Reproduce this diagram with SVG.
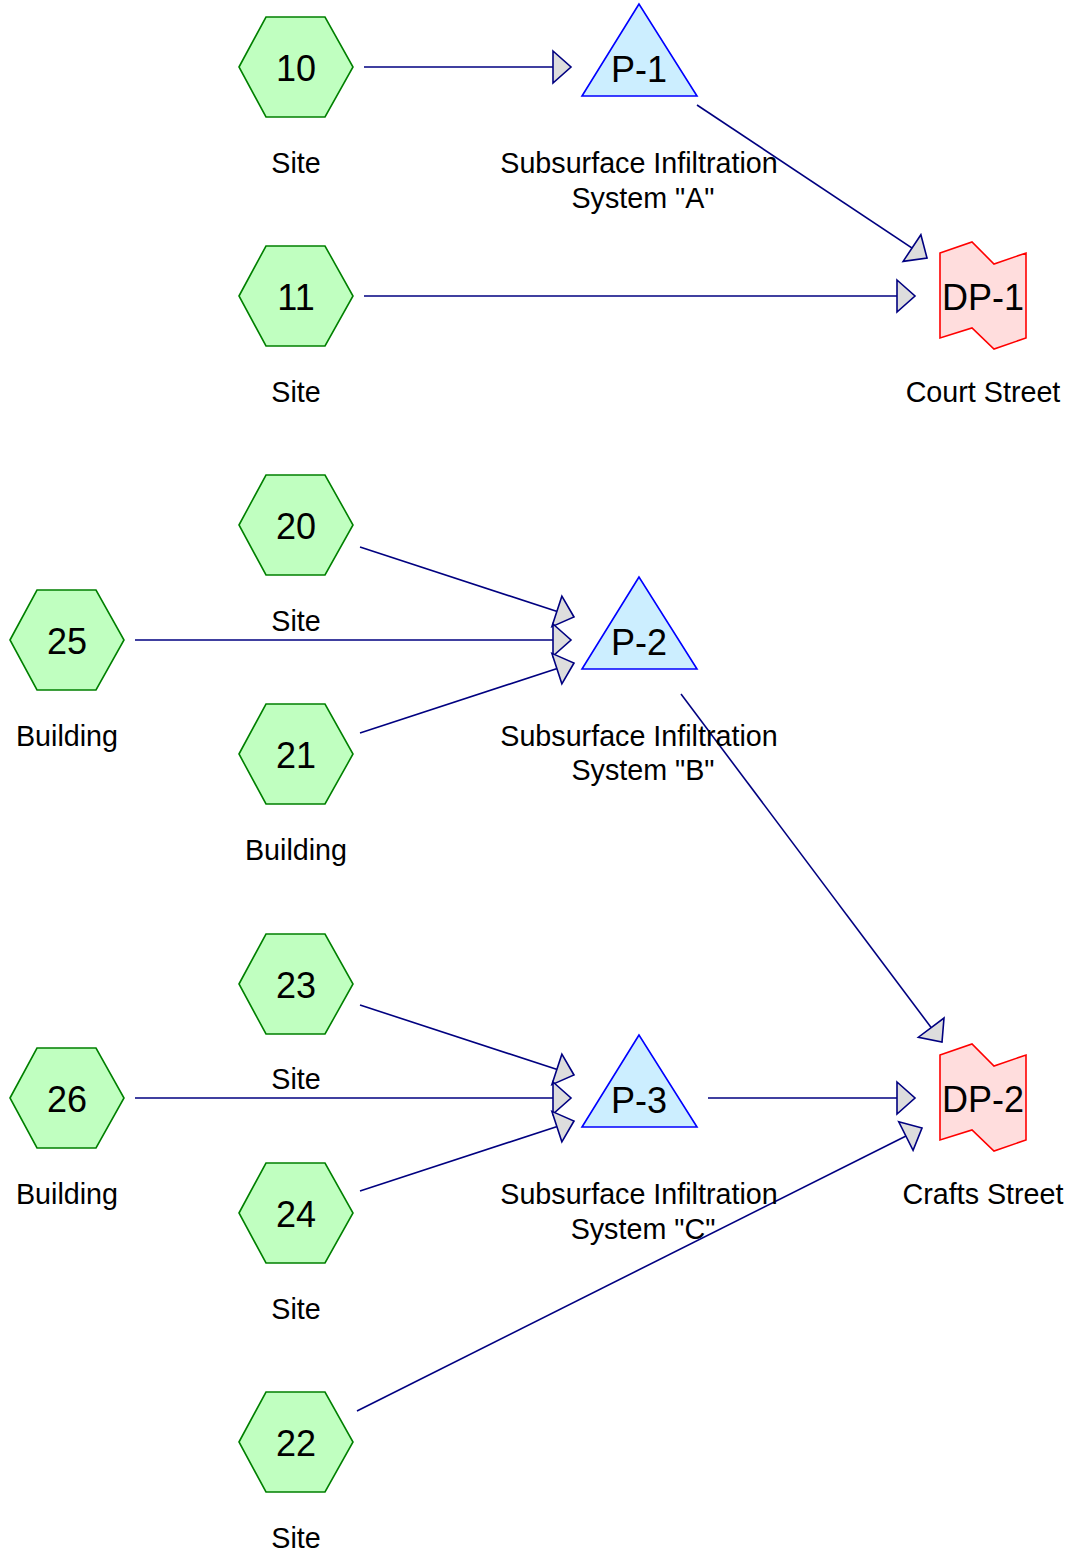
<svg xmlns="http://www.w3.org/2000/svg" width="1070" height="1552" viewBox="0 0 1070 1552">
<style>
.hex{fill:#c0ffc0;stroke:#008000;stroke-width:1.6}
.tri{fill:#cceeff;stroke:#0000ff;stroke-width:1.6}
.dp{fill:#ffdddd;stroke:#ff0000;stroke-width:1.6}
.num{font-family:"Liberation Sans",Arial,sans-serif;font-size:36px;fill:#000;text-anchor:middle}
.lbl{font-family:"Liberation Sans",Arial,sans-serif;font-size:28.7px;fill:#000;text-anchor:middle}
.con{stroke:#000080;stroke-width:1.6;fill:none;marker-end:url(#ah)}
</style>
<defs>
<marker id="ah" markerUnits="userSpaceOnUse" viewBox="-2 -18 22 36" markerWidth="22" markerHeight="36" refX="18" refY="0" orient="auto">
<path d="M0,-16 L18,0 L0,16 Z" fill="#dddddd" stroke="#000080" stroke-width="1.6"/>
</marker>
<path id="hexs" d="M-57,0 L-30,-50 L29,-50 L57,0 L29,50 L-30,50 Z"/>
<path id="tris" d="M0,-63 L-57,29 L58,29 Z"/>
<path id="dps" d="M-43,-43 L-11,-54 L11,-32 L43,-43 L43,42 L11,53 L-11,32 L-43,42 Z"/>
</defs>
<g id="connectors">
<line class="con" x1="364" y1="67" x2="571" y2="67"/>
<line class="con" x1="697" y1="105" x2="927" y2="258"/>
<line class="con" x1="364" y1="296" x2="915" y2="296"/>
<line class="con" x1="360" y1="547" x2="574" y2="617"/>
<line class="con" x1="135" y1="640" x2="571" y2="640"/>
<line class="con" x1="360" y1="733" x2="574" y2="663"/>
<line class="con" x1="681" y1="694" x2="942" y2="1042"/>
<line class="con" x1="360" y1="1005" x2="574" y2="1075"/>
<line class="con" x1="135" y1="1098" x2="571" y2="1098"/>
<line class="con" x1="360" y1="1191" x2="574" y2="1121"/>
<line class="con" x1="708" y1="1098" x2="915" y2="1098"/>
<line class="con" x1="357" y1="1411" x2="922" y2="1128"/>
</g>
<g id="n10"><use href="#hexs" class="hex" transform="translate(296,67)"/><text class="num" x="296" y="81">10</text><text class="lbl" x="296" y="173">Site</text></g>
<g id="p1"><use href="#tris" class="tri" transform="translate(639,67)"/><text class="num" x="639" y="82">P-1</text><text class="lbl" x="639" y="173">Subsurface Infiltration</text><text class="lbl" x="643" y="208">System "A"</text></g>
<g id="n11"><use href="#hexs" class="hex" transform="translate(296,296)"/><text class="num" x="296" y="310">11</text><text class="lbl" x="296" y="402">Site</text></g>
<g id="dp1"><use href="#dps" class="dp" transform="translate(983,296)"/><text class="num" x="983" y="310">DP-1</text><text class="lbl" x="983" y="402">Court Street</text></g>
<g id="n20"><use href="#hexs" class="hex" transform="translate(296,525)"/><text class="num" x="296" y="539">20</text><text class="lbl" x="296" y="631">Site</text></g>
<g id="n25"><use href="#hexs" class="hex" transform="translate(67,640)"/><text class="num" x="67" y="654">25</text><text class="lbl" x="67" y="746">Building</text></g>
<g id="p2"><use href="#tris" class="tri" transform="translate(639,640)"/><text class="num" x="639" y="655">P-2</text><text class="lbl" x="639" y="746">Subsurface Infiltration</text><text class="lbl" x="643" y="780">System "B"</text></g>
<g id="n21"><use href="#hexs" class="hex" transform="translate(296,754)"/><text class="num" x="296" y="768">21</text><text class="lbl" x="296" y="860">Building</text></g>
<g id="n23"><use href="#hexs" class="hex" transform="translate(296,984)"/><text class="num" x="296" y="998">23</text><text class="lbl" x="296" y="1089">Site</text></g>
<g id="n26"><use href="#hexs" class="hex" transform="translate(67,1098)"/><text class="num" x="67" y="1112">26</text><text class="lbl" x="67" y="1204">Building</text></g>
<g id="p3"><use href="#tris" class="tri" transform="translate(639,1098)"/><text class="num" x="639" y="1113">P-3</text><text class="lbl" x="639" y="1204">Subsurface Infiltration</text><text class="lbl" x="643" y="1239">System "C"</text></g>
<g id="dp2"><use href="#dps" class="dp" transform="translate(983,1098)"/><text class="num" x="983" y="1112">DP-2</text><text class="lbl" x="983" y="1204">Crafts Street</text></g>
<g id="n24"><use href="#hexs" class="hex" transform="translate(296,1213)"/><text class="num" x="296" y="1227">24</text><text class="lbl" x="296" y="1319">Site</text></g>
<g id="n22"><use href="#hexs" class="hex" transform="translate(296,1442)"/><text class="num" x="296" y="1456">22</text><text class="lbl" x="296" y="1548">Site</text></g>
</svg>
